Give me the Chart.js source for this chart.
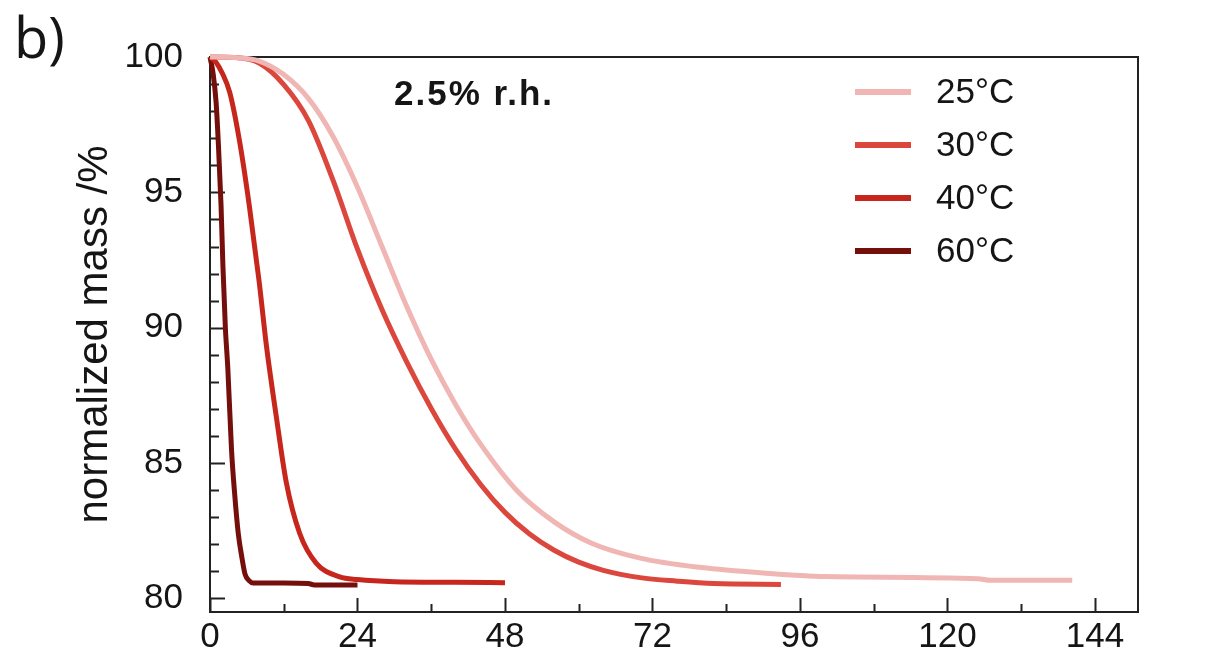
<!DOCTYPE html>
<html>
<head>
<meta charset="utf-8">
<script src="https://cdn.jsdelivr.net/npm/chart.js@4.4.1/dist/chart.umd.min.js"></script>
<style>
  html, body { margin: 0; padding: 0; background: #fff; }
  #chart { display: block; }
</style>
</head>
<body>
<canvas id="chart" width="1214" height="658"></canvas>
<script>
// values (time in h, mass in %)
const hours25 = [0, 4, 8, 12, 16, 20, 24, 28, 32, 36, 40, 44, 50, 56, 62, 70, 80, 90, 100, 125, 127, 140.3];
const mass25 = [100, 99.98, 99.85, 99.35, 98.47, 97.07, 95.19, 92.99, 90.79, 88.83, 87.15, 85.71, 83.97, 82.83, 82.05, 81.49, 81.14, 80.94, 80.81, 80.73, 80.67, 80.67];

const hours30 = [0, 4, 8, 12, 16, 20, 24, 28, 32, 36, 40, 44, 48, 52, 56, 60, 64, 70, 76, 82, 92.9];
const mass30 = [100, 99.98, 99.78, 98.98, 97.66, 95.46, 92.9, 90.66, 88.74, 87.02, 85.5, 84.22, 83.18, 82.38, 81.78, 81.34, 81.04, 80.77, 80.64, 80.55, 80.52];

const hours40 = [0, 1, 2, 3.2, 4.8, 6.4, 8.0, 9.2, 10.8, 12.4, 14.6, 17.3, 21.1, 24, 30, 40, 48];
const mass40 = [100, 99.8, 99.4, 98.7, 96.9, 94.5, 91.7, 89.3, 86.7, 84.3, 82.4, 81.3, 80.8, 80.7, 80.62, 80.6, 80.58];

const hours60 = [0, 0.5, 1, 1.4, 1.8, 2.1, 2.5, 2.9, 3.5, 4.0, 4.6, 5.2, 5.7, 6.4, 7.0, 12, 16, 17, 24];
const mass60 = [100, 99.4, 98.3, 96.6, 94.5, 92.3, 90, 88.5, 85.5, 83.9, 82.4, 81.5, 80.9, 80.65, 80.57, 80.57, 80.55, 80.5, 80.5];

const seriesLabels = ["25°C", "30°C", "40°C", "60°C"];
const seriesColors = ["#f0b6b4", "#dc473d", "#c7261c", "#740f0c"];
const xTicks = [0, 24, 48, 72, 96, 120, 144];
const yTicks = [80, 85, 90, 95, 100];
const panelLabel = "b)";
const noteText = "2.5% r.h.";
const yTitle = "normalized mass /%";

const FONT = "'Liberation Sans', Arial, sans-serif";
const INK = "#151515";

const pairs = (xs, ys) => xs.map((x, i) => ({ x, y: ys[i] }));
const seriesData = [pairs(hours25, mass25), pairs(hours30, mass30), pairs(hours40, mass40), pairs(hours60, mass60)];

// frame + inward ticks, drawn under the curves
const framePlugin = {
  id: "frame",
  beforeDatasetsDraw(chart) {
    const { ctx, chartArea: a, scales: { x, y } } = chart;
    ctx.save();
    ctx.strokeStyle = "#222";
    ctx.lineWidth = 2;
    ctx.strokeRect(a.left, a.top, a.right - a.left, a.bottom - a.top);
    ctx.beginPath();
    for (let v = 0; v <= 144; v += 12) {
      const px = Math.round(x.getPixelForValue(v)) + 0.5;
      const len = v % 24 === 0 ? 14 : 8;
      ctx.moveTo(px, a.bottom);
      ctx.lineTo(px, a.bottom - len);
    }
    for (let v = 80; v <= 100; v += 1) {
      const py = Math.round(y.getPixelForValue(v)) + 0.5;
      const len = v % 5 === 0 ? 15 : 9;
      ctx.moveTo(a.left, py);
      ctx.lineTo(a.left + len, py);
    }
    ctx.stroke();
    ctx.restore();
  },
  afterDraw(chart) {
    const { ctx } = chart;
    ctx.save();
    ctx.fillStyle = INK;
    ctx.textBaseline = "middle";
    ctx.textAlign = "left";

    ctx.font = `400 56px 'Open Sans', sans-serif`;
    ctx.fillText(panelLabel, 14, 42);

    ctx.font = `bold 35px ${FONT}`;
    ctx.letterSpacing = "2px";
    ctx.fillText(noteText, 394, 95);
    ctx.letterSpacing = "0px";

    // legend inside the plot
    ctx.font = `35px ${FONT}`;
    chart.data.datasets.forEach((ds, i) => {
      const cy = 92 + i * 53;
      ctx.strokeStyle = ds.borderColor;
      ctx.lineWidth = 6;
      ctx.beginPath();
      ctx.moveTo(855, cy);
      ctx.lineTo(911, cy);
      ctx.stroke();
      ctx.fillText(ds.label, 936, cy + 1);
    });
    ctx.restore();
  }
};

new Chart(document.getElementById("chart"), {
  type: "line",
  data: {
    datasets: seriesLabels.map((label, i) => ({
      label,
      data: seriesData[i],
      borderColor: seriesColors[i],
      backgroundColor: seriesColors[i],
      borderWidth: 5,
      pointRadius: 0,
      cubicInterpolationMode: "monotone",
      clip: 8
    }))
  },
  options: {
    responsive: false,
    animation: false,
    devicePixelRatio: 1,
    layout: { padding: { top: 57, right: 76, bottom: 0, left: 66 } },
    plugins: { legend: { display: false }, tooltip: { enabled: false } },
    scales: {
      x: {
        type: "linear",
        min: 0,
        max: 151,
        grid: { display: false },
        border: { display: false },
        afterBuildTicks: (s) => { s.ticks = xTicks.map((value) => ({ value })); },
        afterFit: (s) => { s.height = 46; },
        ticks: { color: INK, padding: -4, maxRotation: 0, font: { family: FONT, size: 35 } }
      },
      y: {
        min: 79.5,
        max: 100,
        grid: { display: false },
        border: { display: false },
        afterBuildTicks: (s) => { s.ticks = yTicks.map((value) => ({ value })); },
        afterFit: (s) => { s.width = 144; },
        ticks: { color: INK, padding: 19, font: { family: FONT, size: 35 } },
        title: { display: true, text: yTitle, color: INK, padding: { top: 4, bottom: 0 }, font: { family: FONT, size: 42 } }
      }
    }
  },
  plugins: [framePlugin]
});
</script>
</body>
</html>
